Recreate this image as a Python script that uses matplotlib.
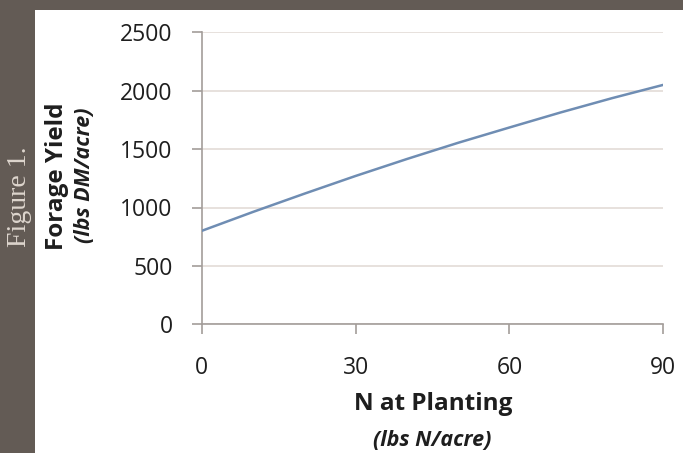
import matplotlib
matplotlib.use("Agg")
import matplotlib.pyplot as plt
from matplotlib.patches import Rectangle

# Data
n_rate = [0, 10, 20, 30, 40, 50, 60, 70, 80, 90]
forage_yield = [800, 962, 1118, 1270, 1415, 1554, 1685, 1814, 1936, 2050]
x_ticks = [0, 30, 60, 90]
y_ticks = [0, 500, 1000, 1500, 2000, 2500]

W, H = 683, 453
fig = plt.figure(figsize=(W / 100, H / 100), dpi=100)
fig.patch.set_facecolor("#635b55")

# white panel
fig.patches.append(Rectangle((35 / W, 0), 1 - 35 / W, 1 - 10 / H,
                             transform=fig.transFigure, facecolor="white",
                             edgecolor="none", zorder=-5))

left, right = 201.7 / W, 663.3 / W
top, bottom = 1 - 32.3 / H, 1 - 324.3 / H
ax = fig.add_axes([left, bottom, right - left, top - bottom])
ax.set_facecolor("none")
ax.set_zorder(2)

ax.plot(n_rate, forage_yield, color="#6f8db3", lw=1.8, zorder=3)

ax.set_xlim(0, 90)
ax.set_ylim(0, 2500)
ax.set_xticks(x_ticks)
ax.set_yticks(y_ticks)
ax.yaxis.grid(True, color="#e3dcd7", lw=1.2)
ax.set_axisbelow(True)

for s in ["top", "right"]:
    ax.spines[s].set_visible(False)
for s in ["left", "bottom"]:
    ax.spines[s].set_color("#a39d9a")
    ax.spines[s].set_linewidth(1.2)

font = "Open Sans"
ax.tick_params(axis="both", colors="#a39d9a", length=7, width=1.2)
ax.tick_params(axis="y", pad=14, labelcolor="#1e1e1e", labelsize=16.5)
ax.tick_params(axis="x", pad=16, labelcolor="#1e1e1e", labelsize=16.5)
for lab in ax.get_xticklabels() + ax.get_yticklabels():
    lab.set_fontfamily(font)

fig.text(433 / W, 1 - 404 / H, "N at Planting", ha="center", va="center",
         fontsize=17.5, fontweight="bold", family=font, color="#1e1e1e")
fig.text(432 / W, 1 - 440 / H, "(lbs N/acre)", ha="center", va="center",
         fontsize=15.5, fontweight="bold", style="italic", family=font, color="#1e1e1e")
fig.text(57 / W, 1 - 176 / H, "Forage Yield", ha="center", va="center",
         rotation=90, fontsize=17.5, fontweight="bold", family=font, color="#1e1e1e")
fig.text(84 / W, 1 - 175 / H, "(lbs DM/acre)", ha="center", va="center",
         rotation=90, fontsize=15.5, fontweight="bold", style="italic", family=font,
         color="#1e1e1e")
fig.text(20 / W, 1 - 197 / H, "Figure 1.", ha="center", va="center",
         rotation=90, fontsize=20, family="Liberation Serif", color="#ddd5cd")

fig.savefig("out.png", dpi=100, facecolor=fig.get_facecolor())
